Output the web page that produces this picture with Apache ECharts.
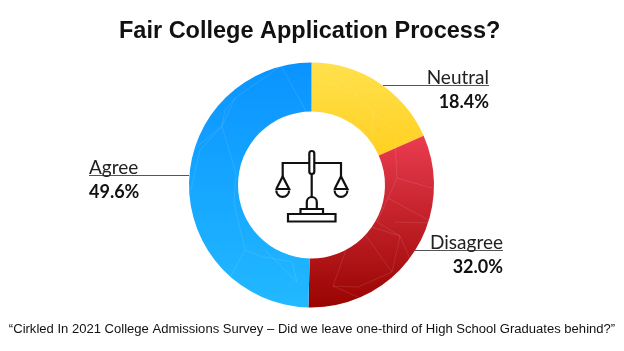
<!DOCTYPE html>
<html>
<head>
<meta charset="UTF-8">
<title>Fair College Application Process?</title>
<style>
  html, body { margin: 0; padding: 0; background: #fff; }
  #main { width: 624px; height: 351px; }
</style>
<script src="https://cdn.jsdelivr.net/npm/echarts@6/dist/echarts.min.js"></script>
</head>
<body>
<div id="main"></div>
<script>
var categories = ['Neutral', 'Disagree', 'Agree'];
var shares = [18.4, 32.0, 49.6];

var titleText = 'Fair College Application Process?';
var sourceText = '\u201CCirkled In 2021 College Admissions Survey \u2013 Did we leave one-third of High School Graduates behind?\u201D';

// top and bottom colour of each slice
var topColors = ['#ffe14d', '#ea3c50', '#0a93ff'];
var bottomColors = ['#ffd021', '#980400', '#22b9ff'];

var cx = 311.5, cy = 185;

// where the labels and their rules sit: x, y of text, rule from/to/y
var labelSpots = [
  { x: 489, y: 65, align: 'right' },
  { x: 503, y: 230, align: 'right' },
  { x: 89, y: 155, align: 'left' }
];
var rules = [
  [383, 489, 85.5],
  [415, 503, 250.5],
  [89, 189, 175.5]
];

// faint web pattern on the ring
var webLines = [
  [[281,66],[235,98],[222,126],[200,150],[191,190]],
  [[281,66],[308,115]],
  [[235,98],[225,110],[222,126]],
  [[222,126],[186,156]],
  [[222,126],[236,174],[234,203],[245,250],[223,290]],
  [[245,250],[263,257],[292,262],[297,282],[265,250]],
  [[322,80],[358,96],[373,111],[394,131]],
  [[373,111],[372,135]],
  [[358,96],[340,80]],
  [[395,140],[397,178],[432,188]],
  [[397,178],[388,198],[432,222]],
  [[395,222],[435,223]],
  [[388,198],[377,222],[400,236],[392,272]],
  [[400,236],[414,268]],
  [[400,236],[356,222],[333,286],[358,297]],
  [[356,222],[392,272],[358,287],[333,286]]
];
var webGraphics = webLines.map(function (pts) {
  return {
    type: 'polyline',
    z: 50,
    silent: true,
    shape: { points: pts },
    style: { fill: 'none', stroke: 'rgba(255,255,255,0.1)', lineWidth: 1 }
  };
});

var ruleGraphics = rules.map(function (r) {
  return {
    type: 'line',
    z: 1,
    silent: true,
    shape: { x1: r[0], y1: r[2], x2: r[1], y2: r[2] },
    style: { stroke: '#555', lineWidth: 1 }
  };
});

// scales in the middle of the ring
var inkStyle = { fill: 'none', stroke: '#111', lineWidth: 2.2 };
var boxStyle = { fill: '#fff', stroke: '#111', lineWidth: 2.2 };
function inkLine(pts) {
  return { type: 'polyline', z: 60, silent: true, shape: { points: pts }, style: inkStyle };
}
function inkBox(x, y, w, h, r) {
  return { type: 'rect', z: 61, silent: true, shape: { x: x, y: y, width: w, height: h, r: r || 0 }, style: boxStyle };
}
function inkArc(x, y, r, from, to) {
  return { type: 'arc', z: 60, silent: true, shape: { cx: x, cy: y, r: r, startAngle: from, endAngle: to, clockwise: true }, style: inkStyle };
}
var scalesGraphics = [
  inkLine([[282.7, 177], [282.7, 163], [341, 163], [341, 177]]),
  inkLine([[311.7, 174], [311.7, 198]]),
  inkLine([[276.3, 189], [282.7, 176.5], [289.1, 189], [276.3, 189]]),
  inkLine([[334.6, 189], [341, 176.5], [347.4, 189], [334.6, 189]]),
  inkLine([[276.3, 189], [276.3, 190]]),
  inkLine([[289.1, 189], [289.1, 190]]),
  inkLine([[334.6, 189], [334.6, 190]]),
  inkLine([[347.4, 189], [347.4, 190]]),
  inkArc(282.7, 190.5, 6.4, 0, Math.PI),
  inkArc(341, 190.5, 6.4, 0, Math.PI),
  inkLine([[306.8, 209], [306.8, 202]]),
  inkLine([[316.8, 209], [316.8, 202]]),
  inkArc(311.8, 202, 5, Math.PI, 2 * Math.PI),
  inkLine([[300.5, 213.5], [300.5, 209], [323, 209], [323, 213.5]]),
  inkBox(309.3, 151, 5, 23, 2.5),
  inkBox(288, 214, 47.5, 7.5)
];

var pieData = categories.map(function (name, i) {
  return {
    name: name,
    value: shares[i],
    itemStyle: {
      color: new echarts.graphic.LinearGradient(0, 0, 0, 1, [
        { offset: 0, color: topColors[i] },
        { offset: 1, color: bottomColors[i] }
      ])
    }
  };
});

var myChart = echarts.init(document.getElementById('main'));

var option = {
  backgroundColor: '#ffffff',
  animation: false,
  title: [
    {
      text: titleText,
      left: 114,
      top: 15,
      textStyle: { fontFamily: 'Liberation Sans', fontSize: 23.5, fontWeight: 'bold', color: '#111' }
    },
    {
      text: sourceText,
      left: 'center',
      top: 318,
      textStyle: { fontFamily: 'Liberation Sans', fontSize: 13.05, fontWeight: 'normal', color: '#111' }
    }
  ],
  series: [{
    type: 'pie',
    silent: true,
    startAngle: 90,
    clockwise: true,
    radius: [73.5, 122.5],
    center: [cx, cy],
    data: pieData,
    label: {
      show: true,
      formatter: function (p) {
        return '{name|' + p.name + '}\n{pct|' + p.value.toFixed(1) + '%}';
      },
      rich: {
        name: { fontFamily: 'Lato', fontSize: 19, color: '#222', height: 26, lineHeight: 26 },
        pct: { fontFamily: 'Lato', fontSize: 18, fontWeight: 'bold', color: '#111', height: 22, lineHeight: 22 }
      }
    },
    labelLine: { show: false },
    labelLayout: function (p) {
      var s = labelSpots[p.dataIndex];
      return { x: s.x, y: s.y, align: s.align, verticalAlign: 'top' };
    }
  }],
  graphic: { elements: ruleGraphics.concat(webGraphics, scalesGraphics) }
};

myChart.setOption(option);
</script>
</body>
</html>
